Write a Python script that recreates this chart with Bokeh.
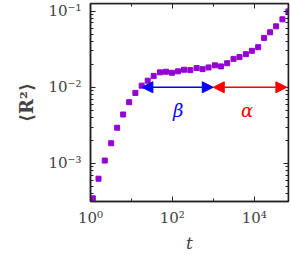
from bokeh.plotting import figure
from bokeh.models import LogAxis, FixedTicker, Arrow, NormalHead, Label, Range1d, ColumnDataSource
from bokeh.embed import file_html
from bokeh.resources import INLINE

# ---- data ----
t = [1.14, 1.57, 2.23, 3.2, 4.48, 6.28, 8.79, 12.5, 17.8, 25, 35, 50, 70, 98,
     138, 193, 275, 392, 548, 767, 1100, 1540, 2190, 3130, 4380, 6270, 8790,
     12500, 17500, 24500, 34400, 49000, 68700]
r2 = [3.48e-4, 6.30e-4, 1.09e-3, 1.84e-3, 2.94e-3, 4.39e-3, 6.37e-3, 8.43e-3,
      1.05e-2, 1.22e-2, 1.41e-2, 1.57e-2, 1.60e-2, 1.55e-2, 1.62e-2, 1.70e-2,
      1.68e-2, 1.79e-2, 1.73e-2, 1.82e-2, 1.94e-2, 1.88e-2, 2.07e-2, 2.36e-2,
      2.49e-2, 2.72e-2, 3.01e-2, 3.36e-2, 4.45e-2, 5.27e-2, 6.31e-2, 7.80e-2,
      9.91e-2]

x_major = [1, 100, 10000]
x_minor = [10, 1000, 100000]
x_labels = {1: "10⁰", 100: "10²", 10000: "10⁴"}
y_major = [0.001, 0.01, 0.1]
y_minor = [m * d for d in [0.0001, 0.001, 0.01, 0.1] for m in range(2, 10)]
y_labels = {0.001: "10⁻³", 0.01: "10⁻²", 0.1: "10⁻¹"}

x_lim = [1, 69000]
y_lim = [10 ** -3.5, 10 ** -0.9]

beta_span = [18, 1000]
alpha_span = [1000, 63000]
arrow_level = 0.01
beta_pos = [140, 5.0e-3]
alpha_pos = [6750, 5.0e-3]

SERIF = "'DejaVu Serif', serif"
AX = "#222222"
LBL = "#444444"

p = figure(width=291, height=255, x_axis_type="log", y_axis_type="log",
           x_range=Range1d(*x_lim), y_range=Range1d(*y_lim),
           output_backend="svg", toolbar_location=None,
           min_border_left=90, min_border_right=3, min_border_top=3,
           min_border_bottom=54)
p.xgrid.visible = False
p.ygrid.visible = False
p.outline_line_color = AX
p.outline_line_width = 1.5
p.background_fill_color = "white"

def style(ax, ticker, labels, show):
    ax.ticker = FixedTicker(ticks=list(ticker[0]), minor_ticks=list(ticker[1]))
    ax.axis_line_color = AX
    ax.axis_line_width = 1.5
    ax.major_tick_line_color = AX
    ax.minor_tick_line_color = AX
    ax.major_tick_in = 5
    ax.major_tick_out = 0
    ax.minor_tick_in = 3
    ax.minor_tick_out = 0
    ax.major_tick_line_width = 1
    ax.minor_tick_line_width = 1
    if show:
        ax.major_label_overrides = labels
        ax.major_label_text_font = SERIF
        ax.major_label_text_font_size = "15px"
        ax.major_label_text_color = LBL
    else:
        ax.major_label_overrides = {k: "" for k in labels}
        ax.major_label_text_font_size = "0px"
        ax.major_label_standoff = 0

xa = p.xaxis[0]
ya = p.yaxis[0]
style(xa, (x_major, x_minor), x_labels, True)
style(ya, (y_major, y_minor), y_labels, True)
xa.major_label_standoff = 7
ya.major_label_standoff = 9
xa.axis_label = "t"
xa.axis_label_text_font = SERIF
xa.axis_label_text_font_style = "italic"
xa.axis_label_text_font_size = "17px"
xa.axis_label_text_color = LBL
xa.axis_label_standoff = 3
ya.axis_label = "⟨R²⟩"
ya.axis_label_text_font = SERIF
ya.axis_label_text_font_style = "bold"
ya.axis_label_text_font_size = "18px"
ya.axis_label_text_color = LBL
ya.axis_label_standoff = 8

top = LogAxis(fixed_location=y_lim[1])
style(top, (x_major, x_minor), x_labels, False)
p.add_layout(top, "above")
right = LogAxis(fixed_location=x_lim[1])
style(right, (y_major, y_minor), y_labels, False)
p.add_layout(right, "right")

src = ColumnDataSource(dict(t=t, r2=r2))
p.scatter("t", "r2", source=src, marker="square", size=5,
          fill_color="#9400D3", line_color="#9400D3")

for span, col in [(beta_span, "blue"), (alpha_span, "red")]:
    p.add_layout(Arrow(
        start=NormalHead(size=11, fill_color=col, line_color=col),
        end=NormalHead(size=11, fill_color=col, line_color=col),
        x_start=span[0], y_start=arrow_level, x_end=span[1], y_end=arrow_level,
        line_color=col, line_width=1.5))

for pos, txt, col in [(beta_pos, "β", "blue"), (alpha_pos, "α", "red")]:
    p.add_layout(Label(x=pos[0], y=pos[1], text=txt, text_color=col,
                       text_font=SERIF, text_font_style="italic",
                       text_font_size="18px", text_align="center",
                       text_baseline="middle"))

open("out.html", "w").write(file_html(p, INLINE))
